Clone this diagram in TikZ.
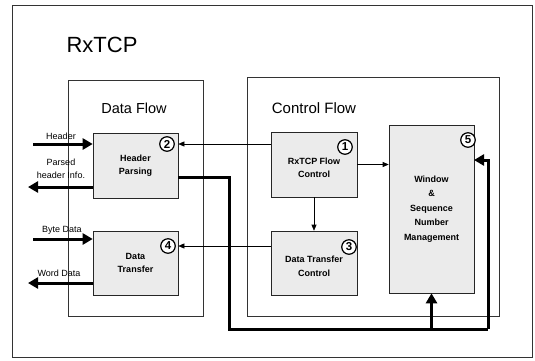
\documentclass[tikz,border=0pt]{standalone}
\usepackage{fontspec}
\setmainfont{Liberation Sans}
\usetikzlibrary{arrows.meta}
\begin{document}
\begin{tikzpicture}[x=1pt,y=1pt]
            \tikzstyle{every node}+=[inner sep=0pt]
            \tikzstyle{block}=[draw=black!85,fill=black!8,line width=0.6pt,align=center,font=\bfseries\fontsize{9}{13.5}\selectfont]
            \tikzstyle{numtag}=[draw,circle,fill=white,line width=1.2pt,minimum size=14.5pt,font=\bfseries\fontsize{11.5}{11.5}\selectfont]
            \tikzstyle{signal}=[line width=0.6pt,-{Triangle[length=6pt,width=5pt]}]
            \tikzstyle{bus}=[line width=3pt]
            \tikzstyle{busarrow}=[line width=3pt,-{Triangle[length=10pt,width=11pt]}]
            \tikzstyle{lbl}=[font=\fontsize{9}{9}\selectfont]
            \useasboundingbox (0,0) rectangle (535,-360);
            \draw [black!80,line width=0.6pt] (12,-5) rectangle (532,-357);
            \draw (102,-45) node (title) {\fontsize{22}{22}\selectfont RxTCP};
            % flow groups
            \draw [black!80,line width=0.6pt] (68,-80) rectangle (203,-316);
            \draw (134,-108) node (dflow) {\fontsize{14.5}{14.5}\selectfont Data Flow};
            \draw [black!80,line width=0.6pt] (247,-77) rectangle (499,-316);
            \draw (314,-108) node (cflow) {\fontsize{15}{15}\selectfont Control Flow};
            % blocks
            \node (hp) [block,minimum width=85pt,minimum height=65pt] at (135.5,-165.5) {Header\\Parsing};
            \node (dt) [block,minimum width=85pt,minimum height=64pt] at (135.5,-263) {Data\\Transfer};
            \node (fc) [block,minimum width=86pt,minimum height=65pt] at (314,-164.5) {\\RxTCP Flow\\Control};
            \node (dtc) [block,minimum width=86pt,minimum height=64pt] at (314,-263) {\\Data Transfer\\Control};
            \node (win) [block,minimum width=85pt,minimum height=168pt,font=\bfseries\fontsize{9}{14.5}\selectfont] at (431.5,-209) {Window\\\&\\Sequence\\Number\\Management};
            \node (c1) [numtag] at (345,-147) {1};
            \node (c2) [numtag] at (167,-144) {2};
            \node (c3) [numtag] at (349,-247) {3};
            \node (c4) [numtag] at (168,-246) {4};
            \node (c5) [numtag] at (468,-140) {5};
            % control signals
            \draw [signal] (fc.west |- c2) -- (c2 -| hp.east);
            \draw [signal] (fc.east) -- (fc.east -| win.west);
            \draw [signal] (fc.south) -- (dtc.north);
            \draw [signal] (dtc.west |- c4) -- (c4 -| dt.east);
            % parsed header bus
            \coordinate (hpout) at (178,-177);
            \coordinate (bendA) at (229,-329);
            \coordinate (bendB) at (488,-329);
            \coordinate (winin) at (474,-160);
            \draw [bus] (hpout) -| (bendA) -- (bendB);
            \draw [busarrow] (bendB) |- (winin);
            \draw [busarrow] (win.south |- bendA) -- (win.south);
            % external ports
            \coordinate (hdrsrc) at (33,-144);
            \coordinate (phdst) at (28,-187);
            \coordinate (bytesrc) at (33,-239);
            \coordinate (worddst) at (28,-283);
            \draw [busarrow] (hdrsrc) -- (hdrsrc -| hp.west);
            \draw [busarrow] (phdst -| hp.west) -- (phdst);
            \draw [busarrow] (bytesrc) -- (bytesrc -| dt.west);
            \draw [busarrow] (worddst -| dt.west) -- (worddst);
            \draw (61,-136) node [lbl] (hdr) {Header};
            \draw (61,-162) node [lbl] (ph1) {Parsed};
            \draw (61,-175) node [lbl] (ph2) {header Info.};
            \draw (62,-230) node [lbl] (byte) {Byte Data};
            \draw (59,-273) node [lbl] (word) {Word Data};
        \end{tikzpicture}
\end{document}
